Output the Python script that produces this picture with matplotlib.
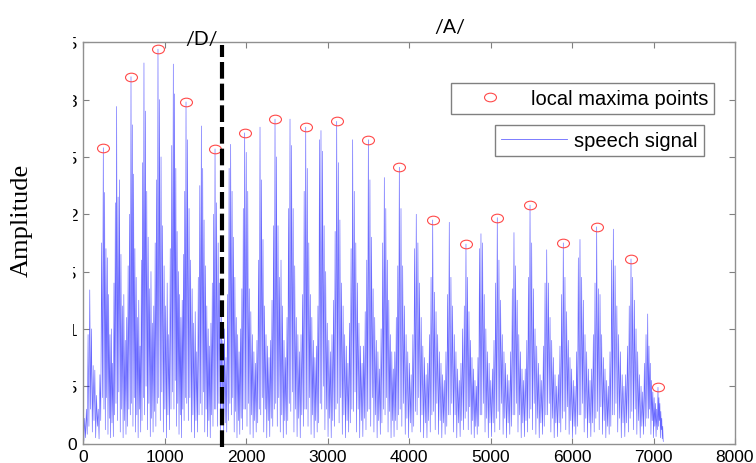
import numpy as np
import matplotlib.pyplot as plt
from matplotlib.path import Path
from matplotlib.lines import Line2D
from matplotlib.patches import Rectangle

# ---- data ----------------------------------------------------------------
# sample index of each pitch pulse (main spike) in the speech signal
pulse_x = [249, 413, 589, 748, 920, 1108, 1264, 1452, 1620, 1812,
           1984, 2172, 2356, 2540, 2733, 2920, 3113, 3309, 3501, 3697,
           3881, 4089, 4291, 4494, 4699, 4883, 5083, 5288, 5485, 5690,
           5893, 6098, 6303, 6507, 6724, 6929, 7055]
signal_end = 7125

# samples before the first pulse (peak, trough, peak, trough ...)
lead_in = [0.10, 0.02, 0.22, 0.05, 0.30, 0.08, 0.95, 0.15, 1.34, 0.30,
           1.00, 0.10, 0.68, 0.20, 0.64, 0.05, 0.42, 0.15, 0.30, 0.04,
           0.60, 0.20, 1.75, 0.40]

# one row per pulse: main spike then the ringing that follows it
pulse_rows = [
    [2.58, .30, 2.19, .12, 1.70, .40, 1.62, .08, 1.30, .22, 0.95, .05, 1.00, .18, 0.70, .06, 1.40, .25, 2.10, .35],
    [2.94, .20, 2.15, .45, 2.30, .10, 1.65, .30, 1.20, .05, 1.30, .20, 0.90, .08, 1.10, .15, 1.55, .30, 2.00, .25],
    [3.20, .35, 2.78, .15, 2.35, .40, 1.70, .10, 1.45, .25, 1.10, .05, 1.25, .30, 0.85, .10, 1.60, .20, 2.45, .40],
    [3.32, .25, 2.90, .50, 2.20, .12, 1.80, .35, 1.35, .06, 1.50, .22, 1.05, .10, 1.20, .28, 1.75, .15, 2.30, .35],
    [3.44, .40, 3.00, .20, 2.50, .45, 1.90, .10, 1.55, .30, 1.20, .05, 1.40, .25, 0.95, .12, 1.70, .30, 2.60, .45],
    [3.31, .30, 3.05, .55, 2.40, .15, 1.85, .35, 1.50, .08, 1.30, .25, 1.10, .05, 1.25, .30, 1.65, .20, 2.20, .40],
    [2.98, .35, 2.65, .20, 2.05, .40, 1.60, .10, 1.35, .25, 1.05, .05, 1.15, .20, 0.80, .10, 1.45, .25, 2.25, .35],
    [2.77, .25, 2.40, .45, 1.95, .10, 1.55, .30, 1.20, .06, 1.00, .20, 0.85, .05, 1.05, .25, 1.40, .15, 2.00, .30],
    [2.57, .30, 2.10, .15, 1.75, .35, 1.40, .08, 1.15, .22, 0.90, .05, 1.00, .18, 0.75, .10, 1.30, .20, 2.40, .35],
    [2.61, .25, 2.20, .40, 1.80, .10, 1.45, .28, 1.10, .05, 0.95, .20, 0.80, .08, 1.00, .22, 1.35, .12, 2.05, .30],
    [2.71, .30, 2.54, .15, 2.20, .35, 1.35, .08, 1.15, .25, 0.95, .05, 0.80, .20, 0.70, .10, 0.90, .18, 1.60, .30],
    [2.76, .25, 2.30, .40, 1.78, .10, 1.20, .30, 0.95, .05, 0.85, .20, 0.75, .06, 0.90, .22, 1.25, .15, 1.90, .30],
    [2.83, .35, 2.50, .15, 1.90, .40, 1.45, .10, 1.60, .25, 1.20, .05, 0.90, .20, 0.75, .08, 1.10, .20, 2.05, .35],
    [2.83, .28, 2.60, .45, 2.05, .10, 1.55, .30, 1.10, .06, 0.95, .22, 0.80, .05, 0.95, .25, 1.30, .15, 2.20, .30],
    [2.76, .30, 2.40, .15, 1.75, .40, 1.30, .08, 1.10, .25, 0.90, .05, 0.75, .20, 0.85, .10, 1.20, .18, 2.65, .35],
    [2.73, .30, 2.55, .50, 1.90, .12, 1.50, .30, 1.05, .06, 0.90, .22, 0.80, .05, 0.95, .20, 1.25, .15, 1.85, .30],
    [2.81, .35, 2.45, .18, 1.95, .40, 1.40, .08, 1.20, .25, 0.95, .05, 0.85, .20, 0.70, .10, 1.05, .18, 1.70, .30],
    [2.65, .28, 2.20, .45, 1.75, .10, 1.40, .30, 1.05, .05, 0.85, .20, 0.70, .06, 0.85, .22, 1.15, .12, 1.60, .28],
    [2.65, .30, 2.30, .15, 1.80, .40, 1.35, .10, 1.10, .25, 0.90, .05, 0.80, .20, 0.65, .08, 1.00, .18, 1.75, .30],
    [2.32, .25, 2.05, .40, 1.60, .10, 1.25, .28, 0.95, .05, 0.80, .20, 0.65, .06, 0.80, .20, 1.10, .12, 1.55, .25],
    [2.41, .30, 2.05, .15, 1.55, .35, 1.20, .08, 0.95, .22, 0.80, .05, 0.70, .18, 0.60, .10, 0.95, .15, 1.70, .28],
    [2.00, .25, 1.75, .40, 1.40, .10, 1.10, .25, 0.85, .05, 0.75, .18, 0.60, .05, 0.70, .20, 0.95, .10, 1.45, .25],
    [1.95, .28, 1.32, .12, 1.15, .35, 0.95, .08, 0.80, .20, 0.70, .05, 0.60, .18, 0.55, .08, 0.80, .15, 1.30, .25],
    [1.93, .25, 1.45, .35, 1.20, .10, 0.95, .25, 0.80, .05, 0.65, .18, 0.55, .06, 0.70, .20, 1.00, .12, 1.20, .22],
    [1.74, .28, 1.45, .12, 1.15, .32, 0.90, .08, 0.75, .20, 0.65, .05, 0.55, .15, 0.50, .08, 0.75, .15, 1.70, .25],
    [1.83, .25, 1.75, .35, 1.30, .10, 1.00, .22, 0.80, .05, 0.70, .18, 0.55, .06, 0.65, .18, 0.90, .10, 1.40, .22],
    [1.97, .28, 1.60, .12, 1.25, .35, 0.95, .08, 0.80, .22, 0.70, .05, 0.60, .18, 0.55, .08, 0.80, .15, 1.35, .25],
    [1.84, .25, 1.55, .35, 1.25, .10, 0.95, .25, 0.80, .05, 0.65, .18, 0.55, .06, 0.65, .20, 0.90, .10, 1.45, .22],
    [2.08, .30, 1.75, .12, 1.35, .35, 1.00, .08, 0.85, .22, 0.70, .05, 0.60, .18, 0.55, .08, 0.85, .15, 1.40, .25],
    [1.69, .25, 1.40, .35, 1.10, .10, 0.90, .22, 0.75, .05, 0.60, .18, 0.50, .06, 0.60, .18, 0.85, .10, 1.30, .22],
    [1.75, .28, 1.45, .12, 1.15, .32, 0.90, .08, 0.75, .20, 0.65, .05, 0.55, .15, 0.50, .08, 0.80, .15, 1.62, .25],
    [1.78, .25, 1.45, .35, 1.25, .10, 0.95, .22, 0.80, .05, 0.65, .18, 0.55, .06, 0.65, .18, 0.95, .10, 1.40, .22],
    [1.89, .28, 1.35, .12, 1.30, .32, 0.95, .08, 0.75, .20, 0.65, .05, 0.55, .15, 0.50, .08, 0.80, .15, 1.60, .25],
    [1.87, .25, 1.55, .35, 1.20, .10, 0.95, .22, 0.80, .05, 0.60, .18, 0.50, .06, 0.60, .18, 0.85, .10, 1.20, .22],
    [1.61, .28, 1.45, .12, 1.25, .30, 1.00, .08, 0.80, .20, 0.60, .05, 0.50, .15, 0.45, .08, 0.70, .15, 0.95, .22],
    [1.13, .22, 0.85, .30, 0.70, .08, 0.55, .20, 0.45, .05, 0.40, .15, 0.35, .06, 0.30, .12],
    [0.49, .15, 0.40, .20, 0.35, .05, 0.28, .12, 0.22, .04, 0.15, .02],
]

# circled local maxima
maxima_x = [249, 589, 920, 1264, 1620, 1984, 2356, 2733, 3113, 3501,
            3881, 4291, 4699, 5083, 5485, 5893, 6303, 6724, 7055]
maxima_y = [2.58, 3.20, 3.44, 2.98, 2.57, 2.71, 2.83, 2.76, 2.81, 2.65,
            2.41, 1.95, 1.74, 1.97, 2.08, 1.75, 1.89, 1.61, 0.49]

boundary_x = 1700          # /D/ -> /A/ boundary
x_ticks = list(range(0, 8001, 1000))
y_ticks = [0, 0.5, 1, 1.5, 2, 2.5, 3, 3.5]
y_tick_labels = ['0', '0.5', '1', '1.5', '2', '2.5', '3', '3.5']

# ---- build the signal vertex list ---------------------------------------
sig_x = list(np.linspace(0, pulse_x[0], len(lead_in), endpoint=False))
sig_y = list(lead_in)
for i, row in enumerate(pulse_rows):
    stop = pulse_x[i + 1] if i + 1 < len(pulse_x) else signal_end
    sig_x += list(np.linspace(pulse_x[i], stop, len(row), endpoint=False))
    sig_y += row
sig_x.append(signal_end)
sig_y.append(0.02)

# ---- figure ---------------------------------------------------------------
W, H = 756, 464
fig = plt.figure(figsize=(W / 100, H / 100), dpi=100)
ax = fig.add_axes([83 / W, 1 - 444.5 / H, 652 / W, 401.2 / H])

ax.plot(sig_x, sig_y, color='blue', lw=0.45, alpha=0.6)

circ = Path.unit_circle()
ellipse = Path(circ.vertices * [1.0, 0.72], circ.codes)
ax.plot(maxima_x, maxima_y, ls='none', marker=ellipse, ms=8.6,
        mfc='none', mec='#ff4a4a', mew=0.8)

ax.plot([boundary_x, boundary_x], [-0.03, 3.477], color='black', lw=3,
        ls=(0, (4, 1.2)), clip_on=False, zorder=5)

ax.set_xlim(0, 8000)
ax.set_ylim(0, 3.5)
ax.set_xticks(x_ticks)
ax.set_yticks(y_ticks)
ax.set_yticklabels(y_tick_labels)
ax.tick_params(direction='in', length=4, width=0.8, color='#808080',
               top=True, right=True, labelsize=12.5, pad=4)
for lab in ax.get_xticklabels() + ax.get_yticklabels():
    lab.set_family('Liberation Sans')
for s in ax.spines.values():
    s.set_color('#909090')
    s.set_linewidth(1.0)

# two separate legend boxes
h1 = Line2D([], [], ls='none', marker=ellipse, ms=8.6, mfc='none',
            mec='#ff4a4a', mew=0.8)
h2 = Line2D([], [], color='blue', lw=0.6, alpha=0.6)
leg_kw = dict(loc='upper right', frameon=True, fancybox=False, framealpha=1,
              edgecolor='#808080', handlelength=3.3, handletextpad=0.35,
              borderpad=0.3, borderaxespad=0,
              prop={'family': 'Liberation Sans', 'size': 14.5})
leg1 = ax.legend([h1], ['local maxima points'],
                 bbox_to_anchor=(0.968, 0.8986), **leg_kw)
ax.add_artist(leg1)
leg2 = ax.legend([h2], ['speech signal'],
                 bbox_to_anchor=(0.952, 0.7946), **leg_kw)
for lg in (leg1, leg2):
    lg.get_frame().set_linewidth(1.0)

# left edge of the tick labels is cropped in the original
fig.add_artist(Rectangle((0, 30 / H), 71.5 / W, (436 - 30) / H,
                         transform=fig.transFigure, color='white', zorder=10))

fig.text(22 / W, 1 - 220 / H, 'Amplitude', rotation=90, ha='center',
         va='center', family='Liberation Serif', fontsize=19, zorder=11)
fig.text(202 / W, 1 - 39 / H, '/D/', ha='center', va='center',
         family='Lato', fontsize=14, zorder=11)
fig.text(450 / W, 1 - 27 / H, '/A/', ha='center', va='center',
         family='Lato', fontsize=14, zorder=11)

fig.savefig('out.png', dpi=100)
